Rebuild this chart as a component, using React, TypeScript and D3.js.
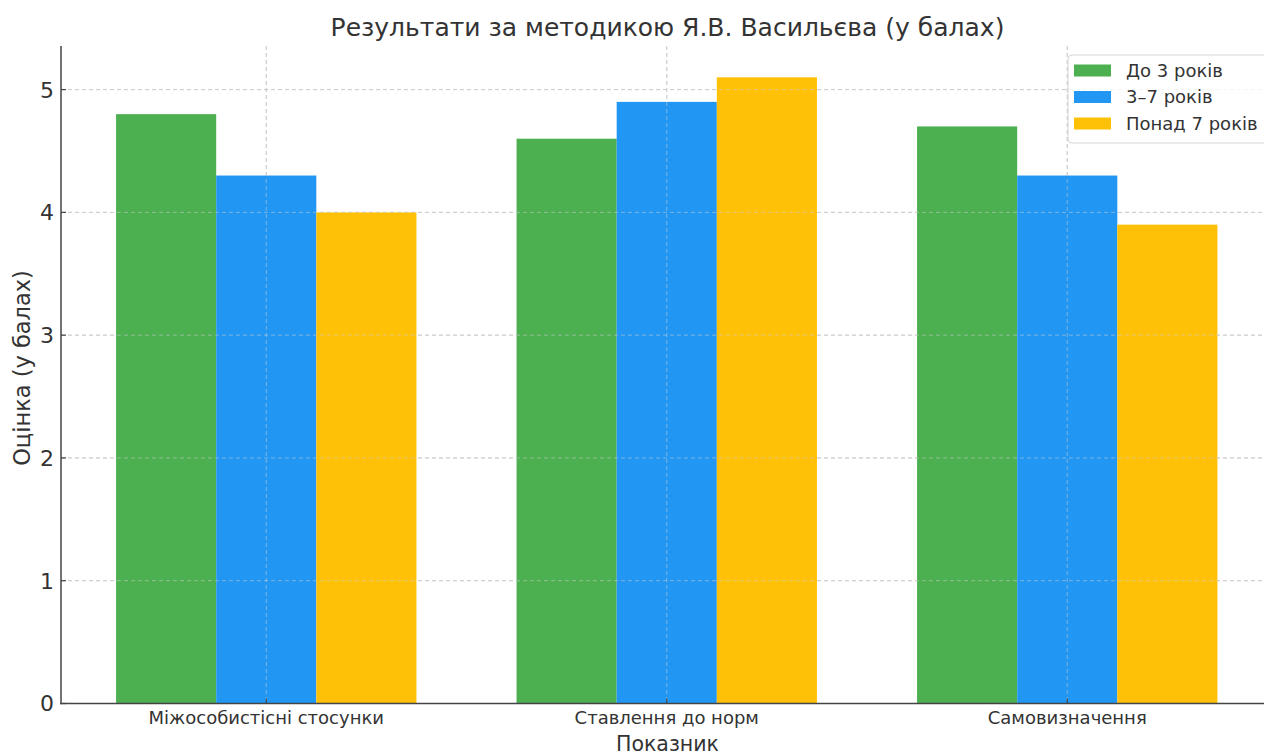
import React from "react";
import * as d3 from "d3";

const categories = ["Міжособистісні стосунки", "Ставлення до норм", "Самовизначення"];
const seriesNames = ["До 3 років", "3–7 років", "Понад 7 років"];
const seriesColors = ["#4CAF50", "#2196F3", "#FFC107"];
const valuesUnder3 = [4.8, 4.6, 4.7];
const values3to7 = [4.3, 4.9, 4.3];
const valuesOver7 = [4.0, 5.1, 3.9];
const yTicks = [0, 1, 2, 3, 4, 5];

const W = 1264;
const H = 754;
const FONT = "DejaVu Sans, sans-serif";
const TEXT = "#333333";

export default function App() {
  const series = [valuesUnder3, values3to7, valuesOver7];
  const left = 61;
  const bottom = 703.5;
  const top = 46;
  const barW = 0.25;
  const x = d3.scaleLinear().domain([-0.5125, 2.5125]).range([left, left + 1211.5]);
  const ymax = 5.1 * 1.05;
  const y = d3.scaleLinear().domain([0, ymax]).range([bottom, top]);
  const offsets = [-barW, 0, barW];

  const gridH = (op: number, k: string) =>
    yTicks.map((t) => (
      <line key={k + t} x1={left} x2={W} y1={y(t)} y2={y(t)} stroke="#cccccc" strokeOpacity={op} strokeWidth={1} strokeDasharray="4,3" />
    ));
  const gridV = (op: number, k: string) =>
    categories.map((c, i) => (
      <line key={k + i} x1={x(i)} x2={x(i)} y1={top} y2={bottom} stroke="#cccccc" strokeOpacity={op} strokeWidth={1} strokeDasharray="4,3" />
    ));

  return (
    <svg width={W} height={H} style={{ position: "absolute", left: 0, top: 0 }} fontFamily={FONT}>
      <rect x={0} y={0} width={W} height={H} fill="#fff" />
      {gridH(1, "gy")}
      {gridV(1, "gx")}
      {series.map((vals, si) =>
        vals.map((v, ci) => (
          <rect
            key={si + "-" + ci}
            x={x(ci + offsets[si] - barW / 2)}
            width={x(barW) - x(0)}
            y={y(v)}
            height={y(0) - y(v)}
            fill={seriesColors[si]}
          />
        ))
      )}
      {gridH(0.55, "gy2")}
      {gridV(0.55, "gx2")}
      {/* spines */}
      <line x1={left} x2={left} y1={top} y2={bottom + 0.75} stroke="#444" strokeWidth={1.5} />
      <line x1={left - 0.75} x2={W} y1={bottom} y2={bottom} stroke="#444" strokeWidth={1.5} />
      {/* ticks */}
      {yTicks.map((t) => (
        <g key={"yt" + t}>
          <line x1={left} x2={left + 5} y1={y(t)} y2={y(t)} stroke="#444" strokeWidth={1.2} />
          <text x={left - 7} y={y(t)} dy="0.36em" textAnchor="end" fontSize={22} fill={TEXT}>
            {t}
          </text>
        </g>
      ))}
      {categories.map((c, i) => (
        <g key={"xt" + i}>
          <line x1={x(i)} x2={x(i)} y1={bottom} y2={bottom - 5} stroke="#444" strokeWidth={1.2} />
          <text x={x(i)} y={718} dy="0.35em" textAnchor="middle" fontSize={18} fill={TEXT}>
            {c}
          </text>
        </g>
      ))}
      {/* labels */}
      <text x={667.5} y={744} dy="0.35em" textAnchor="middle" fontSize={20.5} fill={TEXT}>
        Показник
      </text>
      <text transform="translate(22,368) rotate(-90)" dy="0.35em" textAnchor="middle" fontSize={22.5} fill={TEXT}>
        Оцінка (у балах)
      </text>
      <text x={667.5} y={27} dy="0.35em" textAnchor="middle" fontSize={25} fill={TEXT}>
        Результати за методикою Я.В. Васильєва (у балах)
      </text>
      {/* legend */}
      <rect x={1068} y={55} width={210} height={88} rx={4} fill="#fff" fillOpacity={0.8} stroke="#d6d6d6" />
      {seriesNames.map((s, i) => (
        <g key={"lg" + i}>
          <rect x={1074} y={70.5 + i * 26.5 - 6} width={37} height={12} fill={seriesColors[i]} />
          <text x={1126} y={70.5 + i * 26.5} dy="0.35em" fontSize={18} fill={TEXT}>
            {s}
          </text>
        </g>
      ))}
    </svg>
  );
}
